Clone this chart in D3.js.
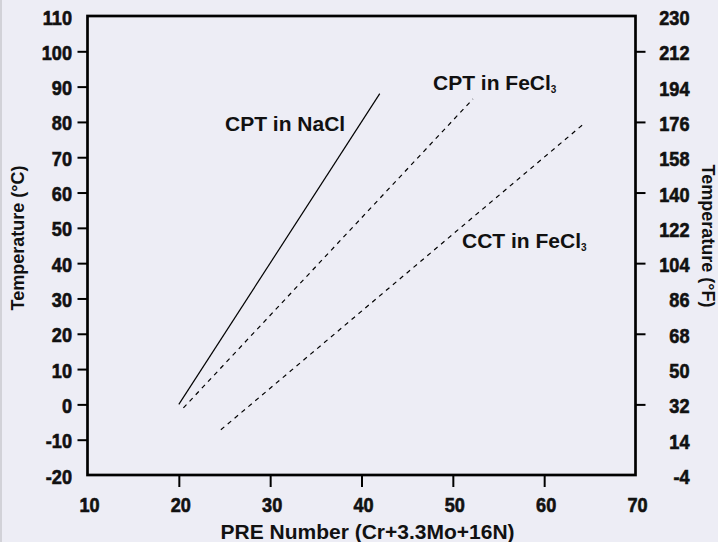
<!DOCTYPE html>
<html><head><meta charset="utf-8">
<script src="https://cdn.jsdelivr.net/npm/d3@7"></script>
<style>
html,body{margin:0;padding:0;background:#ededf5;}
svg{display:block;}
</style></head>
<body>
<svg id="chart" width="718" height="542"></svg>
<script>
// ---- data ----
const xTickValues = [10, 20, 30, 40, 50, 60, 70];
const xTickMarks = [20, 30, 40, 50, 60];
const cTickValues = [-20, -10, 0, 10, 20, 30, 40, 50, 60, 70, 80, 90, 100, 110];
const cTickMarks = [-10, 0, 10, 20, 30, 40, 50, 60, 70, 80, 90, 100];
const fTickLabels = ["-4", "14", "32", "50", "68", "86", "104", "122", "140", "158", "176", "194", "212", "230"];
const fTickMarks = ["32", "68", "104", "140", "176", "212"];

const seriesNames = ["CPT in NaCl", "CPT in FeCl3", "CCT in FeCl3"];
const cptNaCl = [[20, 0], [42, 88]];
const cptFeCl3 = [[20.5, -1], [52.2, 86.5]];
const cctFeCl3 = [[24.6, -7.2], [64.4, 79.6]];

// ---- layout ----
const svg = d3.select("#chart");
const L = 87.5, R = 635.5, T = 16, B = 475;
const x = d3.scaleLinear().domain([10, 70]).range([L, R]);
const y = d3.scaleLinear().domain([-20, 110]).range([B, T]);
const yF = d3.scaleLinear().domain([-4, 230]).range([B, T]);

const boldFont = "'Liberation Sans',Arial,Helvetica,sans-serif";
const SX = 0.93;

svg.append("rect").attr("x", 0).attr("y", 0).attr("width", 718).attr("height", 542).attr("fill", "#ededf5");
svg.append("rect").attr("x", 0).attr("y", 0).attr("width", 2).attr("height", 542).attr("fill", "#d2d2d8");

function condense(sel, xpos, ypos, anchor) {
  sel.each(function() {
    d3.select(this).attr("x", 0).attr("y", 0).attr("dy", null).attr("text-anchor", anchor)
      .attr("transform", `translate(${xpos},${ypos}) scale(${SX},1)`)
      .attr("font-family", boldFont).attr("font-weight", "bold")
      .attr("font-size", 19.5).attr("fill", "#111")
      .attr("stroke", "#111").attr("stroke-width", 0.6);
  });
}

// left axis
const gL = svg.append("g").attr("transform", `translate(${L},0)`)
  .call(d3.axisLeft(y).tickValues(cTickValues).tickSize(10).tickPadding(5).tickFormat(d => String(d)));
gL.select(".domain").remove();
gL.selectAll(".tick line").attr("stroke", "#000").attr("stroke-width", 2)
  .attr("display", d => cTickMarks.includes(d) ? null : "none");
condense(gL.selectAll(".tick text"), -15.5, 8, "end");

// bottom axis
const gB = svg.append("g").attr("transform", `translate(0,${B + 1})`)
  .call(d3.axisBottom(x).tickValues(xTickValues).tickSize(11).tickPadding(10).tickFormat(d => String(d)));
gB.select(".domain").remove();
gB.selectAll(".tick line").attr("stroke", "#000").attr("stroke-width", 2)
  .attr("display", d => xTickMarks.includes(d) ? null : "none");
condense(gB.selectAll(".tick text"), 1.5, 36, "middle");

// right axis (Fahrenheit)
const fVals = fTickLabels.map(Number);
const gR = svg.append("g").attr("transform", `translate(${R},0)`)
  .call(d3.axisRight(yF).tickValues(fVals).tickSize(10).tickPadding(5).tickFormat(d => String(d)));
gR.select(".domain").remove();
gR.selectAll(".tick line").attr("stroke", "#000").attr("stroke-width", 2)
  .attr("display", d => fTickMarks.includes(String(d)) ? null : "none");
condense(gR.selectAll(".tick text"), 54, 8.5, "end");

// frame
svg.append("rect").attr("x", L).attr("y", T).attr("width", R - L).attr("height", B - T)
  .attr("fill", "none").attr("stroke", "#000").attr("stroke-width", 2.7);

// series
const line = d3.line().x(d => x(d[0])).y(d => y(d[1]));
const series = [
  {data: cptNaCl, dash: null},
  {data: cptFeCl3, dash: "4.5,4.5"},
  {data: cctFeCl3, dash: "4.5,4.5"}
];
svg.selectAll("path.series").data(series).join("path").attr("class", "series")
  .attr("d", d => line(d.data)).attr("fill", "none").attr("stroke", "#000")
  .attr("stroke-width", 1.2).attr("stroke-dasharray", d => d.dash);

// series labels
function label(txt, px, py) {
  const t = svg.append("text").attr("x", px).attr("y", py)
    .attr("font-family", boldFont).attr("font-weight", "bold").attr("font-size", 21).attr("fill", "#111");
  const m = txt.match(/^(.*?)(\d)$/);
  if (m) {
    t.append("tspan").text(m[1]);
    t.append("tspan").text(m[2]).attr("font-size", 10).attr("dy", 3);
  } else {
    t.text(txt);
  }
}
label(seriesNames[0], 225, 131);
label(seriesNames[1], 433, 90);
label(seriesNames[2], 462, 248);

// axis titles
svg.append("text").attr("x", (L + R) / 2 + 6).attr("y", 539)
  .attr("text-anchor", "middle").attr("font-family", boldFont).attr("font-weight", "bold")
  .attr("font-size", 21).attr("fill", "#111").text("PRE Number (Cr+3.3Mo+16N)");
svg.append("text").attr("transform", "translate(24,238) rotate(-90)")
  .attr("text-anchor", "middle").attr("font-family", boldFont).attr("font-weight", "bold")
  .attr("font-size", 18).attr("fill", "#111").text("Temperature (°C)");
svg.append("text").attr("transform", "translate(702,236) rotate(90)")
  .attr("text-anchor", "middle").attr("font-family", boldFont).attr("font-weight", "bold")
  .attr("font-size", 18).attr("fill", "#111").text("Temperature (°F)");
</script>
</body></html>
